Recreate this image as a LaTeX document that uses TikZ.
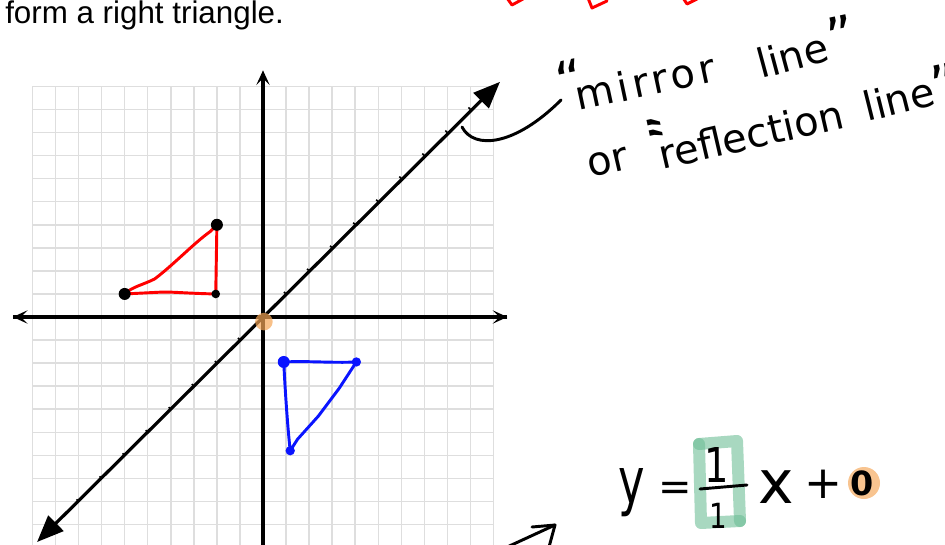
\documentclass[tikz,border=0pt]{standalone}
\usepackage{fontspec}
\setmainfont{Liberation Sans}
\newfontfamily\handfont{DejaVu Sans}
\newfontfamily\handwidefont[LetterSpace=10]{DejaVu Sans}
\newfontfamily\eqfont{DejaVu Sans}
\usetikzlibrary{arrows.meta}
\definecolor{gridgray}{HTML}{DEDEDE}
\definecolor{hlgreen}{RGB}{110,190,150}
\definecolor{hlorange}{RGB}{245,165,85}
\definecolor{redpen}{RGB}{255,0,0}
\definecolor{bluepen}{RGB}{10,20,255}
\tikzset{
  pen/.style={line width=2.2pt, line cap=round, line join=round},
  axisline/.style={line width=2.3pt, -{Stealth[length=11pt,width=10pt,inset=5pt]}},
  diagline/.style={line width=2.4pt, {Triangle[length=20pt,width=16pt]}-{Triangle[length=20pt,width=16pt]}},
  hand/.style={font=\handfont\fontsize{30}{32}\selectfont, inner sep=0pt},
  handwide/.style={font=\handwidefont\fontsize{30}{32}\selectfont, inner sep=0pt},
  quotemark/.style={font=\handfont\fontsize{40}{40}\selectfont, inner sep=0pt},
  eqglyph/.style={inner sep=0pt, anchor=base},
  hlstroke/.style={line width=9pt, line cap=round, line join=round, draw=hlgreen, draw opacity=0.6},
  vdot/.style={circle, inner sep=0pt, fill}
}
\begin{document}
\begin{tikzpicture}[x=0.75pt,y=-0.75pt]
\useasboundingbox (0,0) rectangle (945,545);
\clip (0,0) rectangle (945,545);

% title
\node[anchor=base west, inner sep=0pt, font=\fontsize{23.5}{27}\selectfont] (title) at (5,24) {form a right triangle.};

% red pen marks cut off at the top
\draw[pen, redpen] (507,-2) -- (512,5) -- (523,-1);
\draw[pen, redpen] (588,-2) -- (592,8) -- (607,1);
\draw[pen, redpen] (683,-2) -- (687,4) -- (697,-1);

% graph
\begin{scope}[shift={(263,317)}, x=17.29pt, y=17.29pt]
  \draw[gridgray, line width=1.1pt, step=1] (-10,-10.5) grid (10,10);
  \coordinate (ytop) at (0,10.7);
  \coordinate (ybot) at (0,-10.6);
  \coordinate (xl) at (-10.85,0);
  \coordinate (xr) at (10.6,0);
  \draw[axisline] (ybot) -- (ytop);
  \draw[axisline] (xr) -- (xl);
  \draw[axisline] (xl) -- (xr);
  \coordinate (dl) at (-9.8,-9.76);
  \coordinate (dr) at (10.28,10.2);
  \draw[diagline] (dl) -- (dr);
  \foreach \k in {-9,...,-1,1,2,...,9}
    \draw[line width=1.2pt] (\k-0.09,\k+0.09) -- (\k,\k);
  % origin highlight
  \fill[hlorange, opacity=0.7] (0.04,-0.2) circle (0.38);
  % red triangle
  \coordinate (ra) at (-6,1);
  \coordinate (rb) at (-2,4);
  \coordinate (rc) at (-2.05,1);
  \draw[pen, redpen] (ra) .. controls (-5.7,1.3) and (-5.2,1.4) .. (-4.7,1.65)
        .. controls (-3.9,2.25) and (-3,3.2) .. (-2.3,3.7) -- (rb) -- (rc)
        .. controls (-3.2,1.02) and (-4,1.1) .. (-4.4,1.08) -- (ra);
  \node[vdot, minimum size=9pt] (rad) at (ra) {};
  \node[vdot, minimum size=9pt] (rbd) at (rb) {};
  \node[vdot, minimum size=6.5pt] (rcd) at (rc) {};
  % blue triangle
  \coordinate (ba) at (0.9,-1.95);
  \coordinate (bb) at (4.05,-1.95);
  \coordinate (bc) at (1.18,-5.8);
  \draw[pen, bluepen] (ba) .. controls (2,-1.9) and (3,-2) .. (bb)
        -- (3.3,-3.1) -- (2.4,-4.3) -- (1.5,-5.3) -- (bc)
        .. controls (1.05,-4.6) and (0.95,-3) .. (ba);
  \node[vdot, bluepen, minimum size=9pt] (bad) at (ba) {};
  \node[vdot, bluepen, minimum size=7pt] (bbd) at (bb) {};
  \node[vdot, bluepen, minimum size=7pt] (bcd) at (bc) {};
\end{scope}

% callout curve
\coordinate (c1) at (462,127);
\coordinate (c2) at (561,100);
\draw[pen] (c1) .. controls (474,150) and (515,146) .. (c2);

% handwritten labels
\node[quotemark, rotate=12] (q1) at (570,80) {“};
\node[handwide, anchor=base west, rotate=12] (w1) at (578,111) {mirror};
\node[hand, anchor=base west, rotate=15] (w2) at (761,79) {line};
\node[quotemark, rotate=12] (q2) at (841,36) {”};
\node[hand, anchor=base west, rotate=13] (w3) at (590,178) {or};
\node[quotemark, rotate=-78] (q3) at (642,131) {“};
\node[hand, anchor=base west, rotate=13] (w4) at (662,170) {reflection};
\node[hand, anchor=base west, rotate=14] (w5) at (867,122) {line};
\node[quotemark, rotate=12] (q4) at (945,84) {”};

% bottom arrow
\coordinate (ba1) at (505,548);
\coordinate (ba2) at (555,525);
\draw[pen] (ba1) -- (ba2);
\draw[pen] (532,527) -- (ba2) -- (549,547);

% equation
\draw[hlstroke] (699,444) -- (701,523) -- (740,521);
\draw[hlstroke] (699,444) -- (737,441) -- (740,521);
\fill[hlorange, opacity=0.65] (864,483) circle (16);
\node[eqglyph, font=\eqfont\fontsize{48}{48}\selectfont, xscale=0.7] (ey) at (632,503) {y};
\node[eqglyph, font=\eqfont\fontsize{30}{30}\selectfont] (eeq) at (675,500) {=};
\node[eqglyph, font=\eqfont\fontsize{36}{36}\selectfont, xscale=0.8] (enum) at (717,482) {1};
\coordinate (fb1) at (700,489);
\coordinate (fb2) at (747,485);
\draw[pen] (fb1) -- (fb2);
\node[eqglyph, font=\eqfont\fontsize{26}{26}\selectfont, xscale=0.8] (eden) at (718,528) {1};
\node[eqglyph, font=\eqfont\fontsize{45}{45}\selectfont] (ex) at (776,503) {x};
\node[eqglyph, font=\eqfont\fontsize{34}{34}\selectfont] (eplus) at (823,498) {+};
\node[eqglyph, font=\eqfont\bfseries\fontsize{25}{25}\selectfont] (ezero) at (862,495) {0};
\end{tikzpicture}
\end{document}
